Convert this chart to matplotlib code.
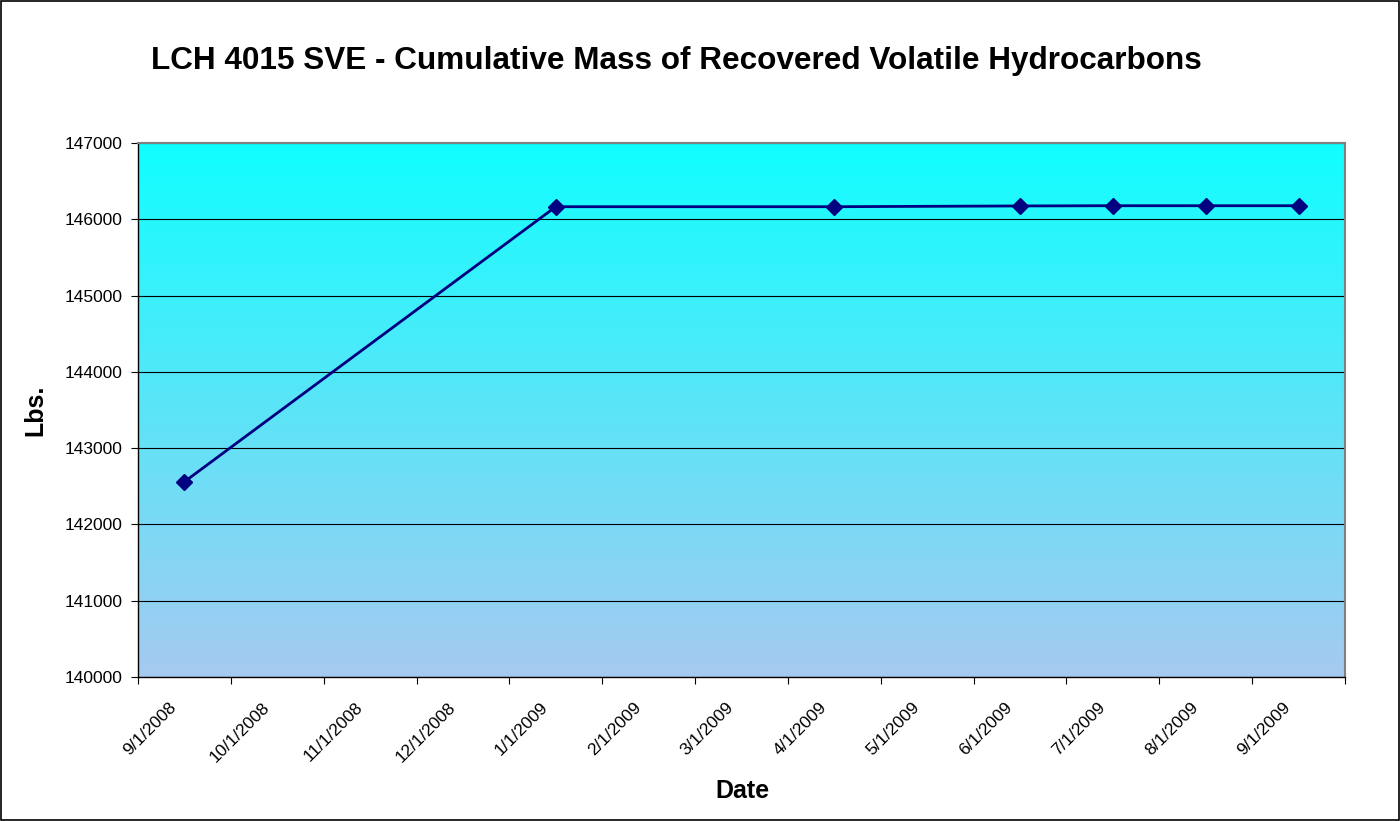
import numpy as np
import matplotlib.pyplot as plt

plt.rcParams['font.family'] = ['Liberation Sans', 'DejaVu Sans']

# monthly axis, Sep 2008 .. Sep 2009 (Excel date axis, base unit = month)
month_labels = ["9/1/2008", "10/1/2008", "11/1/2008", "12/1/2008", "1/1/2009",
                "2/1/2009", "3/1/2009", "4/1/2009", "5/1/2009", "6/1/2009",
                "7/1/2009", "8/1/2009", "9/1/2009"]
# months (index from 9/2008) that have a reading, and the cumulative mass
sample_month = [0, 4, 7, 9, 10, 11, 12]
mass_lbs = [142560, 146165, 146165, 146175, 146178, 146178, 146178]

fig = plt.figure(figsize=(14, 8.21), dpi=100)
ax = fig.add_axes([0.0986, 0.1754, 0.8621, 0.6504])

# gradient plot-area fill
grad = np.linspace(0, 1, 256).reshape(-1, 1)
top = np.array([16, 255, 255]) / 255.0
bot = np.array([166, 202, 240]) / 255.0
img = top[None, None, :] * (1 - grad[:, :, None]) + bot[None, None, :] * grad[:, :, None]
ax.imshow(img, extent=[0, 1, 0, 1], transform=ax.transAxes, aspect='auto', zorder=0)

x = np.array(sample_month) + 0.5
ax.plot(x, mass_lbs, color='#000080', lw=2.0, marker='D', markersize=8, zorder=3)

ax.set_xlim(0, 13)
ax.set_ylim(140000, 147000)
# tick marks on month boundaries, labels drawn slightly to the right (Excel style)
ax.set_xticks(range(14))
ax.set_xticklabels([])
ax.set_xticks(np.arange(13) + 0.39, minor=True)
ax.set_xticklabels(month_labels, minor=True, rotation=45, ha='right', va='center',
                   rotation_mode='anchor', fontsize=12.5)
ax.tick_params(axis='x', which='major', direction='out', length=5)
ax.tick_params(axis='x', which='minor', length=0, pad=20)
ax.set_yticks(range(140000, 147001, 1000))
ax.tick_params(axis='y', labelsize=12.5, direction='out', length=5, pad=6)
ax.yaxis.grid(True, color='black', lw=0.8)
for gl in ax.get_ygridlines():
    gl.set_zorder(1)

for s in ['top', 'right']:
    ax.spines[s].set_color('#808080')
    ax.spines[s].set_linewidth(1.5)
for s in ['left', 'bottom']:
    ax.spines[s].set_color('black')
    ax.spines[s].set_linewidth(1.0)

ax.set_ylabel("Lbs.", fontsize=18, fontweight='bold', va='center')
ax.set_xlabel("Date", fontsize=18, fontweight='bold', va='center')
ax.yaxis.set_label_coords((35 - 138) / 1207, 0.5)
ax.xaxis.set_label_coords((742 - 138) / 1207, (677 - 791) / 534)
fig.text(676 / 1400, 1 - 61 / 821, "LCH 4015 SVE - Cumulative Mass of Recovered Volatile Hydrocarbons",
         ha='center', va='center', fontsize=22.7, fontweight='bold')

# outer chart border
fig.patches.append(plt.Rectangle((0.0007, 0.001), 0.9986, 0.998, transform=fig.transFigure,
                                 fill=False, edgecolor='black', lw=1.2))

fig.savefig("out.png", dpi=100)
